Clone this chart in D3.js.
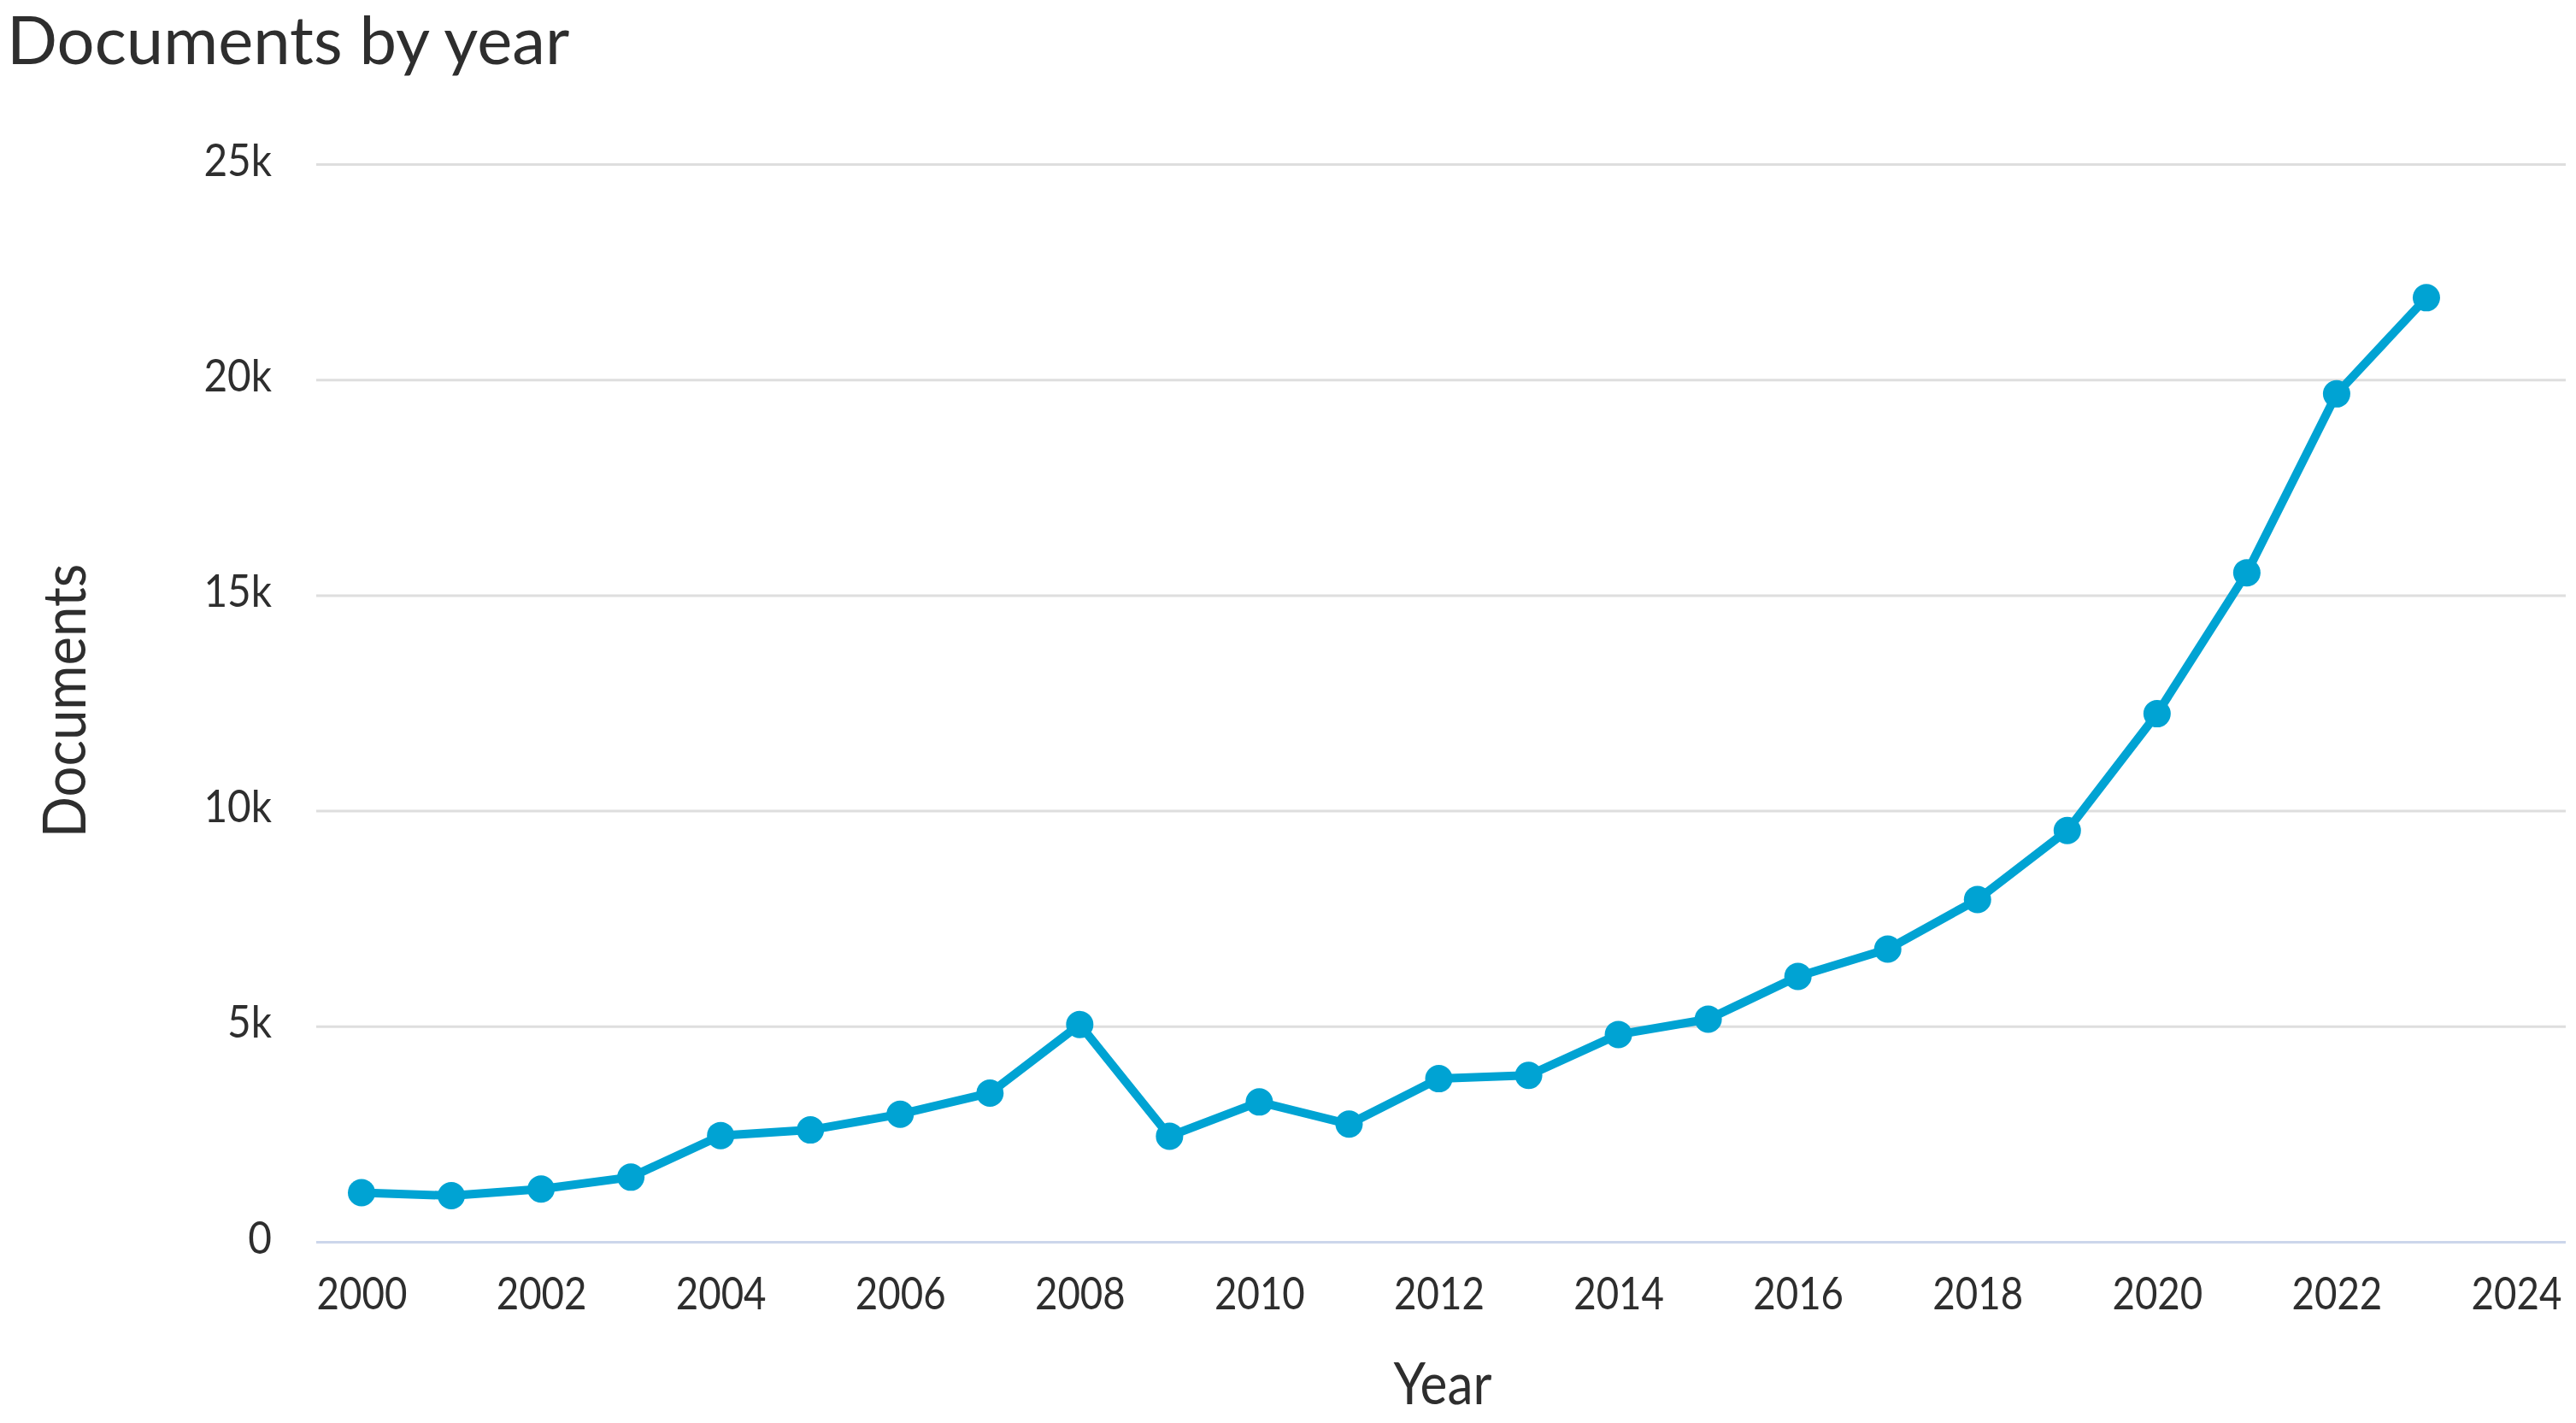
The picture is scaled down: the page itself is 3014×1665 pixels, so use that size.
<!DOCTYPE html>
<html>
<head>
<meta charset="utf-8">
<script src="https://cdn.jsdelivr.net/npm/d3@7"></script>
<style>
  html, body { margin: 0; padding: 0; background: #ffffff; }
  svg { display: block; }
  text { font-family: Lato, "Open Sans", sans-serif; fill: #2e2e2e; }
</style>
</head>
<body>
<svg id="chart" width="3014" height="1665"></svg>
<script>
// ---- data ----
const years = [2000, 2001, 2002, 2003, 2004, 2005, 2006, 2007, 2008, 2009, 2010, 2011,
               2012, 2013, 2014, 2015, 2016, 2017, 2018, 2019, 2020, 2021, 2022, 2023];
const documents = [1140, 1070, 1225, 1500, 2465, 2595, 2960, 3450, 5040, 2450, 3245, 2730,
                   3785, 3860, 4810, 5165, 6155, 6790, 7940, 9540, 12250, 15520, 19670, 21900];
const yTicks = [0, 5000, 10000, 15000, 20000, 25000];
const xTicks = [2000, 2002, 2004, 2006, 2008, 2010, 2012, 2014, 2016, 2018, 2020, 2022, 2024];
const titleText = "Documents by year";
const xTitle = "Year";
const yTitle = "Documents";

// ---- layout ----
const plotLeft = 370, plotRight = 3002, plotTop = 192, plotBottom = 1453;
const lineColor = "#00a3d3";

const svg = d3.select("#chart");

const x = d3.scaleLinear().domain([2000, 2024]).range([423, 2944]);
const y = d3.scaleLinear().domain([0, 25000]).range([plotBottom, plotTop]);

function squeeze(sel, factor) {
  sel.each(function () {
    const w = this.getComputedTextLength();
    d3.select(this).attr("textLength", w * factor).attr("lengthAdjust", "spacingAndGlyphs");
  });
}

// gridlines via axis
const yAxis = d3.axisLeft(y)
  .tickValues(yTicks)
  .tickSize(-(plotRight - plotLeft))
  .tickFormat(d => d === 0 ? "0" : (d / 1000) + "k");

const gy = svg.append("g")
  .attr("transform", `translate(${plotLeft},0)`)
  .call(yAxis);
gy.select(".domain").remove();
gy.selectAll(".tick line")
  .attr("stroke", d => d === 0 ? "#ccd6eb" : "#dedede")
  .attr("stroke-width", 3);
gy.selectAll(".tick text")
  .attr("x", -52)
  .attr("dy", null)
  .attr("y", 13)
  .attr("font-size", 53)
  .attr("fill", "#2e2e2e")
  .attr("text-anchor", "end")
  .call(squeeze, 0.9);

// x axis labels
const xAxis = d3.axisBottom(x)
  .tickValues(xTicks)
  .tickSize(0)
  .tickFormat(d3.format("d"));
const gx = svg.append("g")
  .attr("transform", `translate(0,${plotBottom})`)
  .call(xAxis);
gx.select(".domain").remove();
gx.selectAll(".tick text")
  .attr("dy", null)
  .attr("y", 79)
  .attr("font-size", 53)
  .attr("fill", "#2e2e2e")
  .call(squeeze, 0.86);

// line
const line = d3.line()
  .x((d, i) => x(years[i]))
  .y(d => y(d));

svg.append("path")
  .datum(documents)
  .attr("fill", "none")
  .attr("stroke", lineColor)
  .attr("stroke-width", 10)
  .attr("stroke-linejoin", "round")
  .attr("stroke-linecap", "round")
  .attr("d", line);

svg.append("g").selectAll("circle")
  .data(documents)
  .join("circle")
  .attr("cx", (d, i) => x(years[i]))
  .attr("cy", d => y(d))
  .attr("r", 16)
  .attr("fill", lineColor);

// titles
svg.append("text")
  .attr("x", 8)
  .attr("y", 75)
  .attr("font-size", 77)
  .attr("fill", "#2e2e2e")
  .text(titleText)
  .call(squeeze, 1.01);

svg.append("text")
  .attr("x", 1688)
  .attr("y", 1643)
  .attr("text-anchor", "middle")
  .attr("font-size", 67)
  .text(xTitle)
  .call(squeeze, 0.9);

svg.append("text")
  .attr("transform", "translate(100,820) rotate(-90)")
  .attr("text-anchor", "middle")
  .attr("font-size", 69)
  .text(yTitle)
  .call(squeeze, 0.92);
</script>
</body>
</html>
